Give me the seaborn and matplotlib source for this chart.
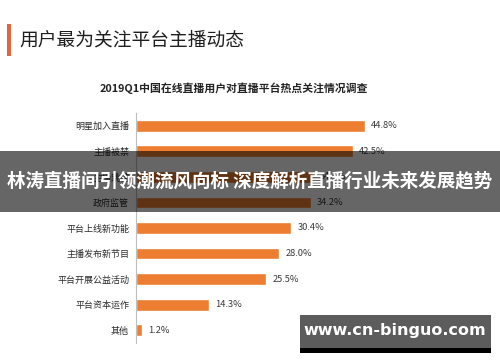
import matplotlib
matplotlib.use("Agg")
import matplotlib.pyplot as plt
import seaborn as sns
from matplotlib.patches import Rectangle

sns.set_style("white")
plt.rcParams['font.family'] = ['Noto Sans CJK SC', 'DejaVu Sans']

page_title = "用户最为关注平台主播动态"
chart_title = "2019Q1中国在线直播用户对直播平台热点关注情况调查"
categories = ["明星加入直播", "主播被禁", "主播跳槽", "政府监管", "平台上线新功能",
              "主播发布新节目", "平台开展公益活动", "平台资本运作", "其他"]
values = [44.8, 42.5, 34.7, 34.2, 30.4, 28.0, 25.5, 14.3, 1.2]
banner_text = "林涛直播间引领潮流风向标 深度解析直播行业未来发展趋势"
watermark_text = "www.cn-binguo.com"

W, H = 500, 362
fig = plt.figure(figsize=(W / 100, H / 100), dpi=100)
fig.patch.set_facecolor("white")

# axes placed to match the slide screenshot
ax = fig.add_axes([136 / W, 1 - 343 / H, 354 / W, 230 / H])
sns.barplot(x=values, y=categories, color="#ED7D31", width=0.46, saturation=1,
            orient="h", ax=ax)
ax.set_xlim(0, 354 / 5.11)
ax.set_xlabel("")
ax.set_ylabel("")
ax.set_xticks([])
for s in ["top", "right", "bottom"]:
    ax.spines[s].set_visible(False)
ax.spines["left"].set_color("#bfbfbf")
ax.spines["left"].set_linewidth(0.8)
ax.tick_params(axis="y", which="major", length=0, labelsize=6.5, colors="#2b2b2b", pad=5)
for lbl in ax.get_yticklabels():
    lbl.set_fontweight("medium")
ax.set_yticks([i + 0.5 for i in range(-1, len(categories))], minor=True)
ax.tick_params(axis="y", which="minor", length=3, color="#bfbfbf", width=0.8)
for i, v in enumerate(values):
    ax.text(v + 1.2, i, f"{v:.1f}%", va="center", ha="left", fontsize=6.7, color="#3a3a3a")

# slide header
fig.add_artist(Rectangle((7 / W, 1 - 56 / H), 4 / W, 32 / H, transform=fig.transFigure,
                         facecolor="#E8643C", edgecolor="none"))
fig.text(19 / W, 1 - 40 / H, page_title, fontsize=13.5, color="#1e1e1e", va="center",
         ha="left", fontweight="medium")
fig.text(234 / W, 1 - 88 / H, chart_title, fontsize=7.8, color="#222222", va="center",
         ha="center", fontweight="bold")

# dark banner overlay
fig.add_artist(Rectangle((0, 1 - 212 / H), 1, 61 / H, transform=fig.transFigure,
                         facecolor="black", alpha=0.6, edgecolor="none", zorder=5))
fig.text(0.5, 1 - 181 / H, banner_text, fontsize=13.3, color="white", fontweight="bold",
         va="center", ha="center", zorder=6)

# watermark box
fig.add_artist(Rectangle((300 / W, 1 - 353 / H), 191 / W, 5 / H, transform=fig.transFigure,
                         facecolor="black", edgecolor="none", zorder=5))
fig.add_artist(Rectangle((300 / W, 1 - 348 / H), 191 / W, 33 / H, transform=fig.transFigure,
                         facecolor="#5c5c5c", edgecolor="none", zorder=5))
fig.text(395 / W, 1 - 331 / H, watermark_text, fontsize=11.5, color="white", fontweight="bold",
         va="center", ha="center", zorder=6, family="DejaVu Sans")

fig.savefig("out.png", dpi=100)
